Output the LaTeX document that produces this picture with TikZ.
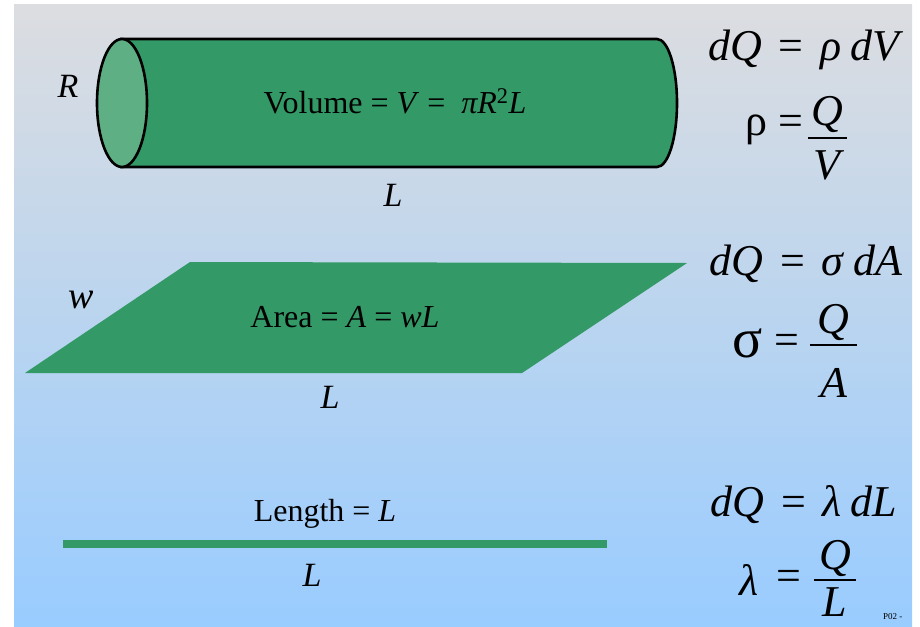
\documentclass[tikz,border=0pt]{standalone}
\usepackage{fontspec}
\setmainfont{Liberation Serif}
\definecolor{shapegreen}{HTML}{339966}
\definecolor{capgreen}{HTML}{5FAF84}
\definecolor{bgtop}{HTML}{DCDDE0}
\definecolor{bgbot}{HTML}{99CCFF}
\newcommand\eqsp{\hspace{0.38em}}
\begin{document}
\begin{tikzpicture}[x=1pt,y=-1pt,
  every node/.style={inner sep=0pt,outer sep=0pt},
  eq/.style={font=\fontsize{44}{48}\selectfont, anchor=base},
  fr/.style={font=\fontsize{44}{48}\selectfont\itshape, anchor=base},
  lbl/.style={font=\fontsize{34}{38}\selectfont\itshape, anchor=base},
  inlbl/.style={font=\fontsize{32}{36}\selectfont, anchor=base},
  outline/.style={draw=black, line width=2.6pt},
  bar/.style={line width=2.6pt}]
\useasboundingbox (0,0) rectangle (920,626);
\shade[top color=bgtop, bottom color=bgbot] (14,5) rectangle (912,626);
% cylinder
\fill[shapegreen] (120,39) -- (657,39) arc[start angle=-90,end angle=90,x radius=20,y radius=64] -- (120,167) -- cycle;
\draw[outline] (120,39) -- (657,39) arc[start angle=-90,end angle=90,x radius=20,y radius=64] -- (120,167);
\draw[outline, fill=capgreen] (122,103) ellipse[x radius=25, y radius=64];
\node[inlbl] (vol) at (395,113) {Volume = \textit{V} =~ \textit{πR}\textsuperscript{2}\textit{L}};
\node[lbl] (rlab) at (68,97) {R};
\node[lbl] (llab1) at (393,206) {L};
% parallelogram
\fill[shapegreen] (25,373) -- (190,262) -- (687,263) -- (522,373) -- cycle;
\node[inlbl] (area) at (345,327) {Area = \textit{A} = \textit{wL}};
\node[font=\fontsize{38}{40}\selectfont\itshape, anchor=base] (wlab) at (81,308) {w};
\node[lbl] (llab2) at (330,408) {L};
% line
\draw[shapegreen, line width=8pt] (63,544) -- (607,544);
\node[inlbl] (len) at (325,521) {Length = \textit{L}};
\node[lbl] (llab3) at (312,586) {L};
% equations
\node[eq] (e1) at (806,60) {\textit{dQ}\eqsp=\eqsp\textit{ρ}\hspace{0.2em}\textit{dV}};
\node[eq, anchor=base east] (r1) at (803,135) {ρ =};
\node[fr] (q1) at (827,125) {Q};
\node[fr] (v1) at (827,179) {V};
\draw[bar] (808,138) -- (847,138);

\node[eq] (e2) at (806,275) {\textit{dQ}\eqsp=\eqsp\textit{σ}\hspace{0.2em}\textit{dA}};
\node[font=\fontsize{56}{60}\selectfont, anchor=base] (s2) at (748,357) {σ};
\node[eq, anchor=base west] (eq2) at (774,354) {=};
\node[fr] (q2) at (833,333) {Q};
\node[fr] (a2) at (834,397) {A};
\draw[bar] (810,345) -- (857,345);

\node[eq] (e3) at (804,516) {\textit{dQ}\eqsp=\eqsp\textit{λ}\hspace{0.2em}\textit{dL}};
\node[eq, anchor=base] (l3) at (749,595) {\textit{λ}};
\node[eq, anchor=base west] (eq3) at (776,590) {=};
\node[fr] (q3) at (835,569) {Q};
\node[fr] (lq3) at (835,616) {L};
\draw[bar] (814,580) -- (856,580);

\node[font=\fontsize{9}{10}\selectfont, anchor=base west] (p02) at (883,619) {P02 -};
\end{tikzpicture}
\end{document}
